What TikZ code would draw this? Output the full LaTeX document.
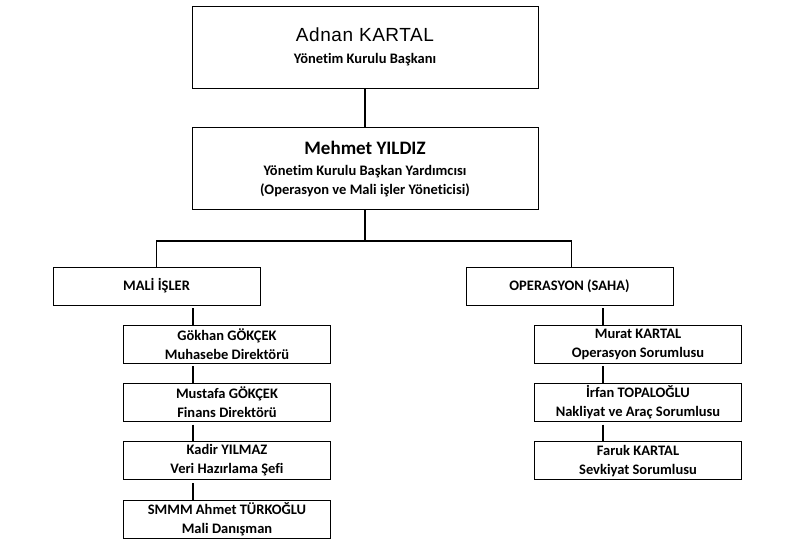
\documentclass[tikz,border=0pt]{standalone}
\usepackage{fontspec}
\setmainfont{Carlito}[Ligatures=CommonOff]
\newfontfamily\headfont{Liberation Sans}[LetterSpace=3]
\usetikzlibrary{positioning}
\tikzset{
  unitbox/.style={draw, line width=0.8pt, align=center, inner sep=0pt,
    font=\bfseries\fontsize{14.5}{19}\selectfont},
  topbox/.style={unitbox, minimum width=346pt, minimum height=82pt},
  deptbox/.style={unitbox, minimum width=207pt, minimum height=38pt},
  staffbox/.style={unitbox, minimum width=207pt, minimum height=38pt},
  link/.style={line width=1.8pt}
}
\begin{document}
\begin{tikzpicture}[x=1pt,y=1pt,node distance=19.5pt]
\useasboundingbox (0,0) rectangle (794,-545);
% board
\node(adnan)  [topbox] at (365,-47)
  {{\mdseries\headfont\fontsize{19}{19}\selectfont Adnan KARTAL}\\[3pt]Yönetim Kurulu Başkanı};
\node(mehmet) [topbox, below=39pt of adnan]
  {{\fontsize{19}{19}\selectfont Mehmet YILDIZ}\\[2pt]Yönetim Kurulu Başkan Yardımcısı\\(Operasyon ve Mali işler Yöneticisi)};
% departments
\node(mali)   [deptbox] at (156.5,-286) {MALİ İŞLER};
\node(oper)   [deptbox] at (569.5,-286) {OPERASYON (SAHA)};
% finance staff
\node(gokhan)  [staffbox] at (227,-344)   {Gökhan GÖKÇEK\\Muhasebe Direktörü};
\node(mustafa) [staffbox, below=of gokhan]  {Mustafa GÖKÇEK\\Finans Direktörü};
\node(kadir)   [staffbox, below=of mustafa] {Kadir YILMAZ\\Veri Hazırlama Şefi};
\node(smmm)    [staffbox, below=of kadir]   {SMMM Ahmet TÜRKOĞLU\\Mali Danışman};
% field staff
\node(murat)  [staffbox] at (638,-344)   {Murat KARTAL\\Operasyon Sorumlusu};
\node(irfan)  [staffbox, below=of murat] {İrfan TOPALOĞLU\\Nakliyat ve Araç Sorumlusu};
\node(faruk)  [staffbox, below=of irfan] {Faruk KARTAL\\Sevkiyat Sorumlusu};
\coordinate(malispine) at ([xshift=70pt]gokhan.north west);
\coordinate(operspine) at ([xshift=69pt]murat.north west);
\draw[link](adnan)   -- (mehmet);
\draw[link](mehmet.south) -- ++(0,-31) coordinate(split);
\draw[link](mali.north) |- (split) -| ([xshift=2pt]oper.north);
\draw[link, shorten <=3pt](mali.south -| malispine)    -- (gokhan.north -| malispine);
\draw[link, shorten <=3pt](gokhan.south -| malispine)  -- (mustafa.north -| malispine);
\draw[link, shorten <=3pt](mustafa.south -| malispine) -- (kadir.north -| malispine);
\draw[link, shorten <=3pt](kadir.south -| malispine)   -- (smmm.north -| malispine);
\draw[link, shorten <=3pt](oper.south -| operspine)    -- (murat.north -| operspine);
\draw[link, shorten <=3pt](murat.south -| operspine)   -- (irfan.north -| operspine);
\draw[link, shorten <=3pt](irfan.south -| operspine)   -- (faruk.north -| operspine);
\end{tikzpicture}
\end{document}
